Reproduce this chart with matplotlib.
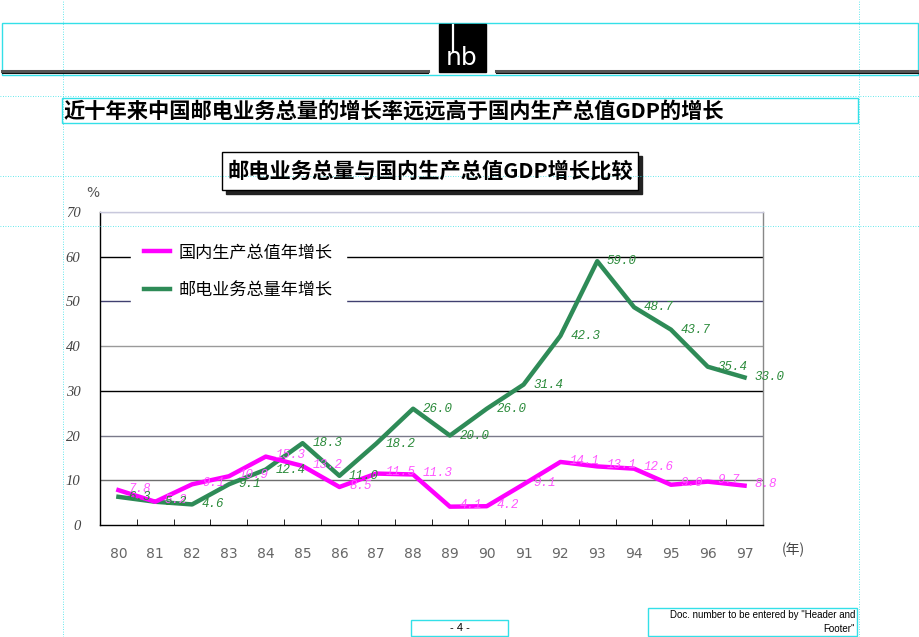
import matplotlib
matplotlib.use("Agg")
import matplotlib.pyplot as plt
from matplotlib.patches import Rectangle
from matplotlib.lines import Line2D
import numpy as np

plt.rcParams['font.family'] = ['Noto Sans CJK SC', 'DejaVu Sans']

# ---------------- data ----------------
years = ["80", "81", "82", "83", "84", "85", "86", "87", "88",
         "89", "90", "91", "92", "93", "94", "95", "96", "97"]
gdp_growth = [7.8, 5.2, 9.1, 10.9, 15.3, 13.2, 8.5, 11.5, 11.3,
              4.1, 4.2, 9.1, 14.1, 13.1, 12.6, 9.0, 9.7, 8.8]
post_growth = [6.3, 5.2, 4.6, 9.1, 12.4, 18.3, 11.0, 18.2, 26.0,
               20.0, 26.0, 31.4, 42.3, 59.0, 48.7, 43.7, 35.4, 33.0]
y_ticks = [0, 10, 20, 30, 40, 50, 60, 70]
series_names = ["国内生产总值年增长", "邮电业务总量年增长"]
page_title = "近十年来中国邮电业务总量的增长率远远高于国内生产总值GDP的增长"
chart_title = "邮电业务总量与国内生产总值GDP增长比较"

W, H = 920, 637
fig = plt.figure(figsize=(W / 100, H / 100), dpi=100)

def fx(px):
    return px / W

def fy(py):
    return 1 - py / H

CYAN = "#33e0e8"

# ---------------- page decorations ----------------
for xg in (63, 859):
    fig.add_artist(Line2D([fx(xg), fx(xg)], [0, 1], color=CYAN, lw=0.6, ls=(0, (1, 2))))
for yg in (96, 176, 226):
    fig.add_artist(Line2D([0, 1], [fy(yg), fy(yg)], color=CYAN, lw=0.6, ls=(0, (1, 2))))

fig.add_artist(Rectangle((fx(2), fy(75)), fx(916), 52 / H, fill=False, ec=CYAN, lw=1.0))
for seg in ((2, 428), (496, 918)):
    fig.add_artist(Line2D([fx(seg[0]), fx(seg[1])], [fy(71), fy(71)], color="#555555", lw=2.2))
    fig.add_artist(Line2D([fx(seg[0]), fx(seg[1])], [fy(72.5), fy(72.5)], color="#111111", lw=0.8))
# logo
fig.add_artist(Rectangle((fx(439), fy(72)), fx(47), 48 / H, fc="black", ec="black"))
fig.add_artist(Line2D([fx(453), fx(453)], [fy(25), fy(52)], color="white", lw=1.6))
fig.text(fx(462), fy(70), "nb", color="white", fontsize=18, ha="center", va="bottom",
         family="DejaVu Sans")

# page title
fig.add_artist(Rectangle((fx(62), fy(123)), fx(796), 25 / H, fill=False, ec=CYAN, lw=1.0))
fig.text(fx(64), fy(111), page_title, fontsize=15.3, fontweight="bold", ha="left", va="center",
         family=["Noto Sans CJK SC", "DejaVu Sans"])

# chart title box with shadow
fig.add_artist(Rectangle((fx(226), fy(194)), fx(416), 38 / H, fc="#222222", ec="#222222"))
fig.add_artist(Rectangle((fx(222), fy(190)), fx(416), 38 / H, fc="white", ec="black", lw=1.0))
fig.text(fx(430), fy(171), chart_title, fontsize=15.3, fontweight="bold", ha="center", va="center",
         family=["Noto Sans CJK SC", "DejaVu Sans"])

# footer
fig.add_artist(Rectangle((fx(411), fy(636)), fx(97), 16 / H, fill=False, ec=CYAN, lw=1.0))
fig.text(fx(459.5), fy(628), "- 4 -", fontsize=8, ha="center", va="center", family="Liberation Sans")
fig.add_artist(Rectangle((fx(648), fy(636)), fx(209), 28 / H, fill=False, ec=CYAN, lw=1.0))
fig.text(fx(855), fy(615.5), 'Doc. number to be entered by "Header and', fontsize=7, ha="right",
         va="center", family="Liberation Sans")
fig.text(fx(855), fy(629), 'Footer"', fontsize=7, ha="right", va="center", family="Liberation Sans")

# ---------------- chart ----------------
ax = fig.add_axes([fx(100), fy(525), fx(663), (525 - 212) / H])
x = np.arange(len(years))

grid_colors = {10: "#6e6e6e", 20: "#7a7a8a", 30: "#000000", 40: "#9a9a9a",
               50: "#404070", 60: "#000000", 70: "#c8c8dc"}
for yv in y_ticks[1:]:
    ax.axhline(yv, color=grid_colors[yv], lw=1.0, zorder=1)

MAG = "#ff00ff"
GRN = "#2e8b57"
l1, = ax.plot(x, gdp_growth, color=MAG, lw=3.2, zorder=4, solid_joinstyle="round")
l2, = ax.plot(x, post_growth, color=GRN, lw=3.2, zorder=3, solid_joinstyle="round")

for i, v in enumerate(gdp_growth):
    ax.annotate(f"{v:.1f}", (i, v), xytext=(7, 1), textcoords="offset points",
                va="center", ha="left", fontsize=9, color="#ff55ff", style="italic",
                family="Liberation Mono", zorder=5)
for i, v in enumerate(post_growth):
    ax.annotate(f"{v:.1f}", (i, v), xytext=(7, 0), textcoords="offset points",
                va="center", ha="left", fontsize=9, color="#2a8a3a", style="italic",
                family="Liberation Mono", zorder=5)

ax.set_xlim(-0.5, len(years) - 0.5)
ax.set_ylim(0, 70)
ax.set_xticks(x)
ax.set_xticklabels(years, family="DejaVu Sans", fontsize=10, color="#666666")
ax.set_xticks(np.arange(0.5, len(years) - 0.5, 1), minor=True)
ax.tick_params(axis="x", which="major", length=0, pad=16)
ax.tick_params(axis="x", which="minor", length=4, direction="in", color="black")
ax.set_yticks(y_ticks)
ax.set_yticklabels([str(t) for t in y_ticks], family="Liberation Serif", style="italic",
                   fontsize=10.5, color="#444444")
ax.tick_params(axis="y", length=0, pad=14)

ax.spines["left"].set_color("black")
ax.spines["bottom"].set_color("black")
ax.spines["top"].set_color("#c8c8dc")
ax.spines["right"].set_color("#888888")
for s in ax.spines.values():
    s.set_linewidth(1.0)

leg = ax.legend([l1, l2], series_names, loc="upper left",
                bbox_to_anchor=(fx(122), fy(221)), bbox_transform=fig.transFigure,
                frameon=True, fancybox=False, edgecolor="white", facecolor="white",
                framealpha=1, handlelength=1.5, handletextpad=0.5, labelspacing=1.15,
                borderpad=0.8, prop={"family": ["Noto Sans CJK SC"], "size": 12.3})
leg.set_zorder(6)

fig.text(fx(93), fy(193), "%", fontsize=10, color="#555555", ha="center", va="center",
         family="DejaVu Sans")
fig.text(fx(793), fy(550), "(年)", fontsize=10, color="#444444", ha="center", va="center",
         family=["Noto Sans CJK SC", "DejaVu Sans"])

fig.savefig("out.png", dpi=100)
